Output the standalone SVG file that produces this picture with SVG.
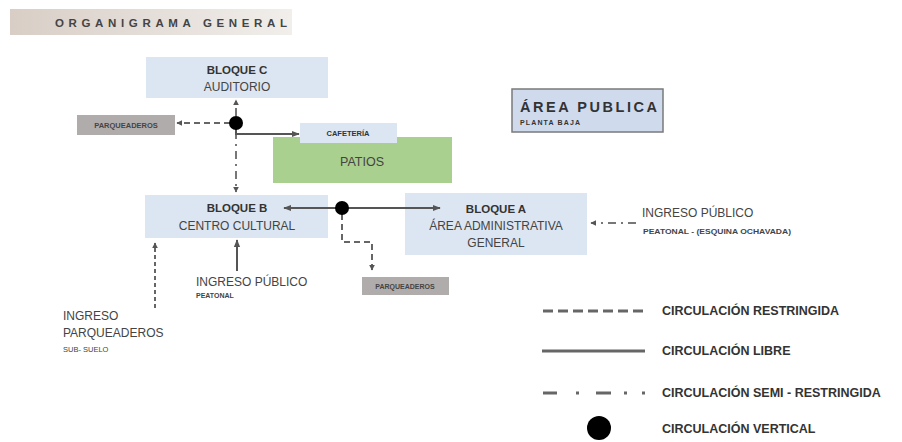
<svg xmlns="http://www.w3.org/2000/svg" width="902" height="442" viewBox="0 0 902 442">
<defs>
<linearGradient id="ban" x1="0" y1="0" x2="1" y2="0">
<stop offset="0" stop-color="#d8cec6"/>
<stop offset="1" stop-color="#f1eeeb"/>
</linearGradient>
<marker id="ah" viewBox="0 0 10 10" refX="9" refY="5" markerWidth="6" markerHeight="6" orient="auto" markerUnits="userSpaceOnUse">
<path d="M0,0 L10,5 L0,10 Z" fill="#555"/>
</marker>
<marker id="ahs" viewBox="0 0 10 10" refX="9" refY="5" markerWidth="8" markerHeight="8" orient="auto" markerUnits="userSpaceOnUse">
<path d="M0,1 L10,5 L0,9 Z" fill="#555"/>
</marker>
</defs>
<style>
text{font-family:"Liberation Sans",Arial,sans-serif;fill:#444}
.b{font-weight:bold;fill:#333}
.box{fill:#dce6f2}
.park{fill:#b1acac}
.sol{stroke:#555;stroke-width:2;fill:none}
.dash{stroke:#666;stroke-width:2;fill:none;stroke-dasharray:6 4}
.dd{stroke:#777;stroke-width:2;fill:none;stroke-dasharray:8 5 2 5}
.dot{fill:#000}
.leg{stroke:#666;stroke-width:3;fill:none}
.lt{font-weight:bold;font-size:12.5px;fill:#333}
</style>
<rect width="902" height="442" fill="#fff"/>
<g id="title">
<rect x="10" y="9" width="282" height="26" fill="url(#ban)"/>
<text x="55" y="27" font-size="11.5" font-weight="bold" textLength="232" lengthAdjust="spacing" fill="#555">ORGANIGRAMA GENERAL</text>
</g>
<g id="bloque-c">
<rect class="box" x="146" y="57" width="182" height="41"/>
<text class="b" x="237" y="74" font-size="11.5" text-anchor="middle">BLOQUE  C</text>
<text x="237" y="91" font-size="12" text-anchor="middle">AUDITORIO</text>
</g>
<g id="area-publica">
<rect x="512" y="89" width="151" height="43" fill="#cfdbec" stroke="#7a7a7a" stroke-width="1.5"/>
<text class="b" x="520" y="112" font-size="14.5" textLength="137" lengthAdjust="spacing">ÁREA PUBLICA</text>
<text class="b" x="520" y="125" font-size="7" textLength="60" lengthAdjust="spacing">PLANTA BAJA</text>
</g>
<g id="parqueaderos-1">
<rect class="park" x="77" y="115" width="98" height="20"/>
<text x="126" y="128" font-size="7.5" font-weight="bold" text-anchor="middle" fill="#444">PARQUEADEROS</text>
</g>
<g id="patios">
<rect x="273" y="137" width="179" height="46" fill="#a9d08e"/>
<text x="362" y="166" font-size="12.5" text-anchor="middle" fill="#335522">PATIOS</text>
</g>
<g id="cafeteria">
<rect class="box" x="300" y="123" width="97" height="20"/>
<text class="b" x="348" y="136" font-size="7.5" text-anchor="middle">CAFETERÍA</text>
</g>
<g id="bloque-b">
<rect class="box" x="145" y="195" width="183" height="43"/>
<text class="b" x="237" y="212" font-size="11.5" text-anchor="middle">BLOQUE  B</text>
<text x="237" y="230" font-size="12" text-anchor="middle">CENTRO CULTURAL</text>
</g>
<g id="bloque-a">
<rect class="box" x="405" y="193" width="182" height="62"/>
<text class="b" x="496" y="213" font-size="11.5" text-anchor="middle">BLOQUE A</text>
<text x="496" y="230" font-size="12" text-anchor="middle">ÁREA ADMINISTRATIVA</text>
<text x="496" y="247" font-size="12" text-anchor="middle">GENERAL</text>
</g>
<g id="parqueaderos-2">
<rect class="park" x="362" y="277" width="87" height="18"/>
<text x="405" y="289" font-size="7" font-weight="bold" text-anchor="middle" fill="#444">PARQUEADEROS</text>
</g>
<g id="ingreso-a">
<text x="642" y="217" font-size="12">INGRESO PÚBLICO</text>
<text x="643" y="234" font-size="7" font-weight="bold" textLength="148" lengthAdjust="spacingAndGlyphs" fill="#444">PEATONAL - (ESQUINA OCHAVADA)</text>
</g>
<g id="ingreso-b">
<text x="196" y="286" font-size="12">INGRESO PÚBLICO</text>
<text x="196" y="298" font-size="7" font-weight="bold" fill="#444">PEATONAL</text>
</g>
<g id="ingreso-parq">
<text x="63" y="320" font-size="12">INGRESO</text>
<text x="63" y="337" font-size="12">PARQUEADEROS</text>
<text x="63" y="352" font-size="7.5" fill="#333">SUB- SUELO</text>
</g>
<g id="connectors">
<path class="dash" d="M230,123 H177" marker-end="url(#ah)"/>
<path class="dd" d="M236,116 V100" marker-end="url(#ah)"/>
<path class="dd" d="M236,131 V192" marker-end="url(#ah)"/>
<path class="sol" d="M236,128 V134 H299" marker-end="url(#ahs)"/>
<path class="sol" d="M342,208 H284" marker-end="url(#ahs)"/>
<path class="sol" d="M342,208 H440" marker-end="url(#ahs)"/>
<path class="dash" d="M342,214 V242 H372 V270" marker-end="url(#ah)"/>
<path class="dd" d="M636,223 H591" marker-end="url(#ah)"/>
<path class="sol" d="M237,271 V240" marker-end="url(#ahs)"/>
<path class="dash" d="M155,308 V243" style="stroke-dasharray:4 3" marker-end="url(#ah)"/>
<circle class="dot" cx="236" cy="123" r="7"/>
<circle class="dot" cx="342" cy="208" r="7"/>
</g>
<g id="legend">
<path class="leg" d="M543,311 H643" style="stroke-dasharray:10 5"/>
<text class="lt" x="662" y="315">CIRCULACIÓN RESTRINGIDA</text>
<path class="leg" d="M542,351 H645"/>
<text class="lt" x="662" y="355">CIRCULACIÓN LIBRE</text>
<path class="leg" d="M543,393 H648" style="stroke-dasharray:14 19 3 17 15 13 3 15 3 30"/>
<text class="lt" x="662" y="397">CIRCULACIÓN SEMI - RESTRINGIDA</text>
<circle class="dot" cx="599" cy="428" r="12"/>
<text class="lt" x="662" y="433">CIRCULACIÓN VERTICAL</text>
</g>
</svg>
